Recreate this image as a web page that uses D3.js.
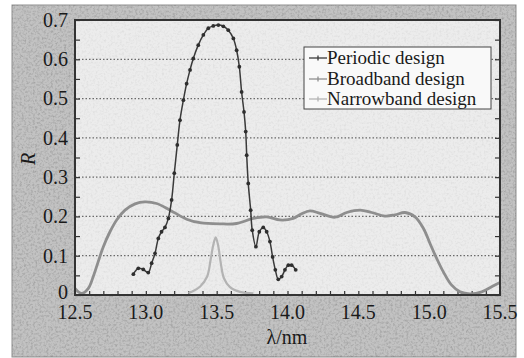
<!DOCTYPE html>
<html>
<head>
<meta charset="utf-8">
<script src="https://cdn.jsdelivr.net/npm/d3@7"></script>
<style>
  html, body { margin: 0; padding: 0; background: #fff; }
  svg { display: block; }
</style>
</head>
<body>
<svg id="chart" width="524" height="358"></svg>
<script>
// Reflectance spectra of three multilayer designs (wavelength in nm)
const periodicLambda = [12.912, 12.947, 12.982, 13.017, 13.041, 13.065, 13.088, 13.111, 13.135, 13.159, 13.182, 13.201,
  13.222, 13.241, 13.265, 13.288, 13.312, 13.335, 13.370, 13.406, 13.441, 13.476, 13.512, 13.547, 13.582, 13.618,
  13.641, 13.660, 13.676, 13.693, 13.705, 13.712, 13.723, 13.740, 13.751, 13.777, 13.801, 13.829, 13.853, 13.876,
  13.895, 13.914, 13.935, 13.959, 13.982, 14.006, 14.029, 14.058];
const periodicR = [0.053, 0.068, 0.065, 0.057, 0.081, 0.106, 0.144, 0.161, 0.172, 0.195, 0.242, 0.310,
  0.382, 0.445, 0.496, 0.538, 0.573, 0.602, 0.636, 0.662, 0.679, 0.685, 0.687, 0.684, 0.674, 0.653,
  0.623, 0.581, 0.517, 0.466, 0.416, 0.356, 0.284, 0.216, 0.165, 0.123, 0.161, 0.172, 0.161, 0.136,
  0.097, 0.064, 0.040, 0.047, 0.064, 0.076, 0.076, 0.064];

const broadLambda = [12.50, 12.547, 12.594, 12.629, 12.664, 12.700, 12.747, 12.794, 12.853, 12.924, 12.994, 13.076,
  13.171, 13.288, 13.382, 13.524, 13.641, 13.759, 13.853, 13.947, 14.041, 14.100, 14.159, 14.229, 14.335, 14.418,
  14.512, 14.594, 14.688, 14.759, 14.829, 14.900, 14.959, 15.006, 15.053, 15.100, 15.159, 15.218, 15.288, 15.371,
  15.441, 15.500];
const broadR = [0.017, 0.004, 0.017, 0.047, 0.085, 0.123, 0.161, 0.191, 0.216, 0.232, 0.237, 0.233,
  0.216, 0.193, 0.184, 0.181, 0.182, 0.195, 0.199, 0.191, 0.195, 0.207, 0.214, 0.208, 0.198, 0.210,
  0.216, 0.210, 0.201, 0.204, 0.210, 0.199, 0.170, 0.131, 0.093, 0.059, 0.025, 0.008, 0.003, 0.008,
  0.021, 0.032];

const narrowLambda = [13.300, 13.323, 13.382, 13.433, 13.457, 13.476, 13.493, 13.512, 13.529, 13.552, 13.594, 13.665, 13.759];
const narrowR = [0.005, 0.008, 0.021, 0.047, 0.089, 0.127, 0.147, 0.123, 0.081, 0.042, 0.020, 0.008, 0.004];

const xTickValues = [12.5, 13.0, 13.5, 14.0, 14.5, 15.0, 15.5];
const xTickLabels = ["12.5", "13.0", "13.5", "14.0", "14.5", "15.0", "15.5"];
const yTickValues = [0, 0.1, 0.2, 0.3, 0.4, 0.5, 0.6, 0.7];
const yTickLabels = ["0", "0.1", "0.2", "0.3", "0.4", "0.5", "0.6", "0.7"];
const seriesNames = ["Periodic design", "Broadband design", "Narrowband design"];

const svg = d3.select("#chart");
const serif = "Liberation Serif, Tinos, Times New Roman, DejaVu Serif, Noto Serif, serif";

const plot = { left: 75, right: 500, top: 20, bottom: 295 };
const x = d3.scaleLinear().domain([12.5, 15.5]).range([plot.left, plot.right]);
const y = d3.scaleLinear().domain([0, 0.7]).range([plot.bottom, plot.top]);

// Grain used for the printed panel texture
const defs = svg.append("defs");
const grain = defs.append("filter").attr("id", "grain").attr("x", 0).attr("y", 0).attr("width", 1).attr("height", 1);
grain.append("feTurbulence").attr("type", "fractalNoise").attr("baseFrequency", 0.45).attr("numOctaves", 3).attr("seed", 7);
grain.append("feColorMatrix").attr("type", "matrix")
  .attr("values", "0 0 0 0 0  0 0 0 0 0  0 0 0 0 0  0 0 0 -1.4 0.8");
defs.append("clipPath").attr("id", "plotClip").append("rect")
  .attr("x", plot.left).attr("y", plot.top)
  .attr("width", plot.right - plot.left).attr("height", plot.bottom - plot.top);

// Outer grey panel
svg.append("rect").attr("x", 12).attr("y", 5).attr("width", 504).attr("height", 352)
  .attr("fill", "#c2c2c2").attr("stroke", "#8f8f8f").attr("stroke-width", 1);
svg.append("rect").attr("x", 12).attr("y", 5).attr("width", 504).attr("height", 352)
  .attr("filter", "url(#grain)").attr("opacity", 0.25);

// Plot area
svg.append("rect").attr("x", plot.left).attr("y", plot.top)
  .attr("width", plot.right - plot.left).attr("height", plot.bottom - plot.top)
  .attr("fill", "#ececec");
svg.append("rect").attr("x", plot.left).attr("y", plot.top)
  .attr("width", plot.right - plot.left).attr("height", plot.bottom - plot.top)
  .attr("filter", "url(#grain)").attr("opacity", 0.08);

// Dotted horizontal grid
svg.append("g").selectAll("line")
  .data(yTickValues.filter(v => v > 0 && v < 0.7))
  .join("line")
  .attr("x1", plot.left).attr("x2", plot.right)
  .attr("y1", d => y(d)).attr("y2", d => y(d))
  .attr("stroke", "#6a6a6a").attr("stroke-width", 1.2).attr("stroke-dasharray", "1.5,2");

// Axes with inward ticks
const minorY = d3.range(0, 0.7001, 0.05);
const minorX = d3.range(12.5, 15.5001, 0.1);
svg.append("g").attr("transform", `translate(${plot.left},0)`)
  .call(d3.axisRight(y).tickValues(minorY).tickSize(5).tickFormat(""))
  .call(g => g.select(".domain").remove())
  .call(g => g.selectAll("line").attr("stroke", "#333").attr("stroke-width", 1.2));
svg.append("g").attr("transform", `translate(${plot.right},0)`)
  .call(d3.axisLeft(y).tickValues(minorY).tickSize(5).tickFormat(""))
  .call(g => g.select(".domain").remove())
  .call(g => g.selectAll("line").attr("stroke", "#333").attr("stroke-width", 1.2));
svg.append("g").attr("transform", `translate(0,${plot.bottom})`)
  .call(d3.axisTop(x).tickValues(minorX).tickSize(4).tickFormat(""))
  .call(g => g.select(".domain").remove())
  .call(g => g.selectAll("line").attr("stroke", "#333").attr("stroke-width", 1.2));

// Tick labels
svg.append("g").selectAll("text").data(yTickValues).join("text")
  .attr("x", 68).attr("y", d => d === 0 ? y(d) - 3 : y(d)).attr("dy", "0.34em")
  .attr("text-anchor", "end").style("font-family", serif).attr("font-size", 20).attr("fill", "#1a1a1a")
  .text((d, i) => yTickLabels[i]);
svg.append("g").selectAll("text").data(xTickValues).join("text")
  .attr("x", d => x(d)).attr("y", 319)
  .attr("text-anchor", "middle").style("font-family", serif).attr("font-size", 20).attr("fill", "#1a1a1a")
  .text((d, i) => xTickLabels[i]);

// Axis titles
svg.append("text").attr("transform", "translate(35,159) rotate(-90)")
  .attr("text-anchor", "middle").style("font-family", serif).attr("font-size", 20)
  .attr("font-style", "italic").attr("fill", "#1a1a1a").text("R");
svg.append("text").attr("x", 287).attr("y", 344)
  .attr("text-anchor", "middle").style("font-family", serif).attr("font-size", 20).attr("fill", "#1a1a1a")
  .text("λ/nm");

// Curves
const line = d3.line().x(d => x(d[0])).y(d => y(d[1])).curve(d3.curveCatmullRom.alpha(0.5));
const curves = svg.append("g").attr("clip-path", "url(#plotClip)");

const narrow = d3.zip(narrowLambda, narrowR);
curves.append("path").datum(narrow).attr("d", line)
  .attr("fill", "none").attr("stroke", "#b3b3b3").attr("stroke-width", 2.2);

const broad = d3.zip(broadLambda, broadR);
curves.append("path").datum(broad).attr("d", line)
  .attr("fill", "none").attr("stroke", "#8e8e8e").attr("stroke-width", 2.8);

const periodic = d3.zip(periodicLambda, periodicR);
curves.append("path").datum(periodic).attr("d", line)
  .attr("fill", "none").attr("stroke", "#3a3a3a").attr("stroke-width", 1.5);
curves.append("g").selectAll("circle").data(periodic).join("circle")
  .attr("cx", d => x(d[0])).attr("cy", d => y(d[1])).attr("r", 1.9).attr("fill", "#2e2e2e");

// Plot frame
svg.append("rect").attr("x", plot.left).attr("y", plot.top)
  .attr("width", plot.right - plot.left).attr("height", plot.bottom - plot.top)
  .attr("fill", "none").attr("stroke", "#333").attr("stroke-width", 2);

// Legend
const legend = svg.append("g");
legend.append("rect").attr("x", 304).attr("y", 47).attr("width", 187).attr("height", 62)
  .attr("fill", "#f9f9f9").attr("stroke", "#444").attr("stroke-width", 1);
const legendColors = ["#3a3a3a", "#8e8e8e", "#b3b3b3"];
const legendRows = [58, 79, 99];
seriesNames.forEach((name, i) => {
  const cy = legendRows[i];
  legend.append("line").attr("x1", 309).attr("x2", 327).attr("y1", cy).attr("y2", cy)
    .attr("stroke", legendColors[i]).attr("stroke-width", 1.3);
  legend.append("line").attr("x1", 318).attr("x2", 318).attr("y1", cy - 2.5).attr("y2", cy + 2.5)
    .attr("stroke", legendColors[i]).attr("stroke-width", 1.3);
  legend.append("text").attr("x", 327).attr("y", cy).attr("dy", "0.34em")
    .style("font-family", serif).attr("font-size", 19).attr("fill", "#1a1a1a").text(name);
});
</script>
</body>
</html>
